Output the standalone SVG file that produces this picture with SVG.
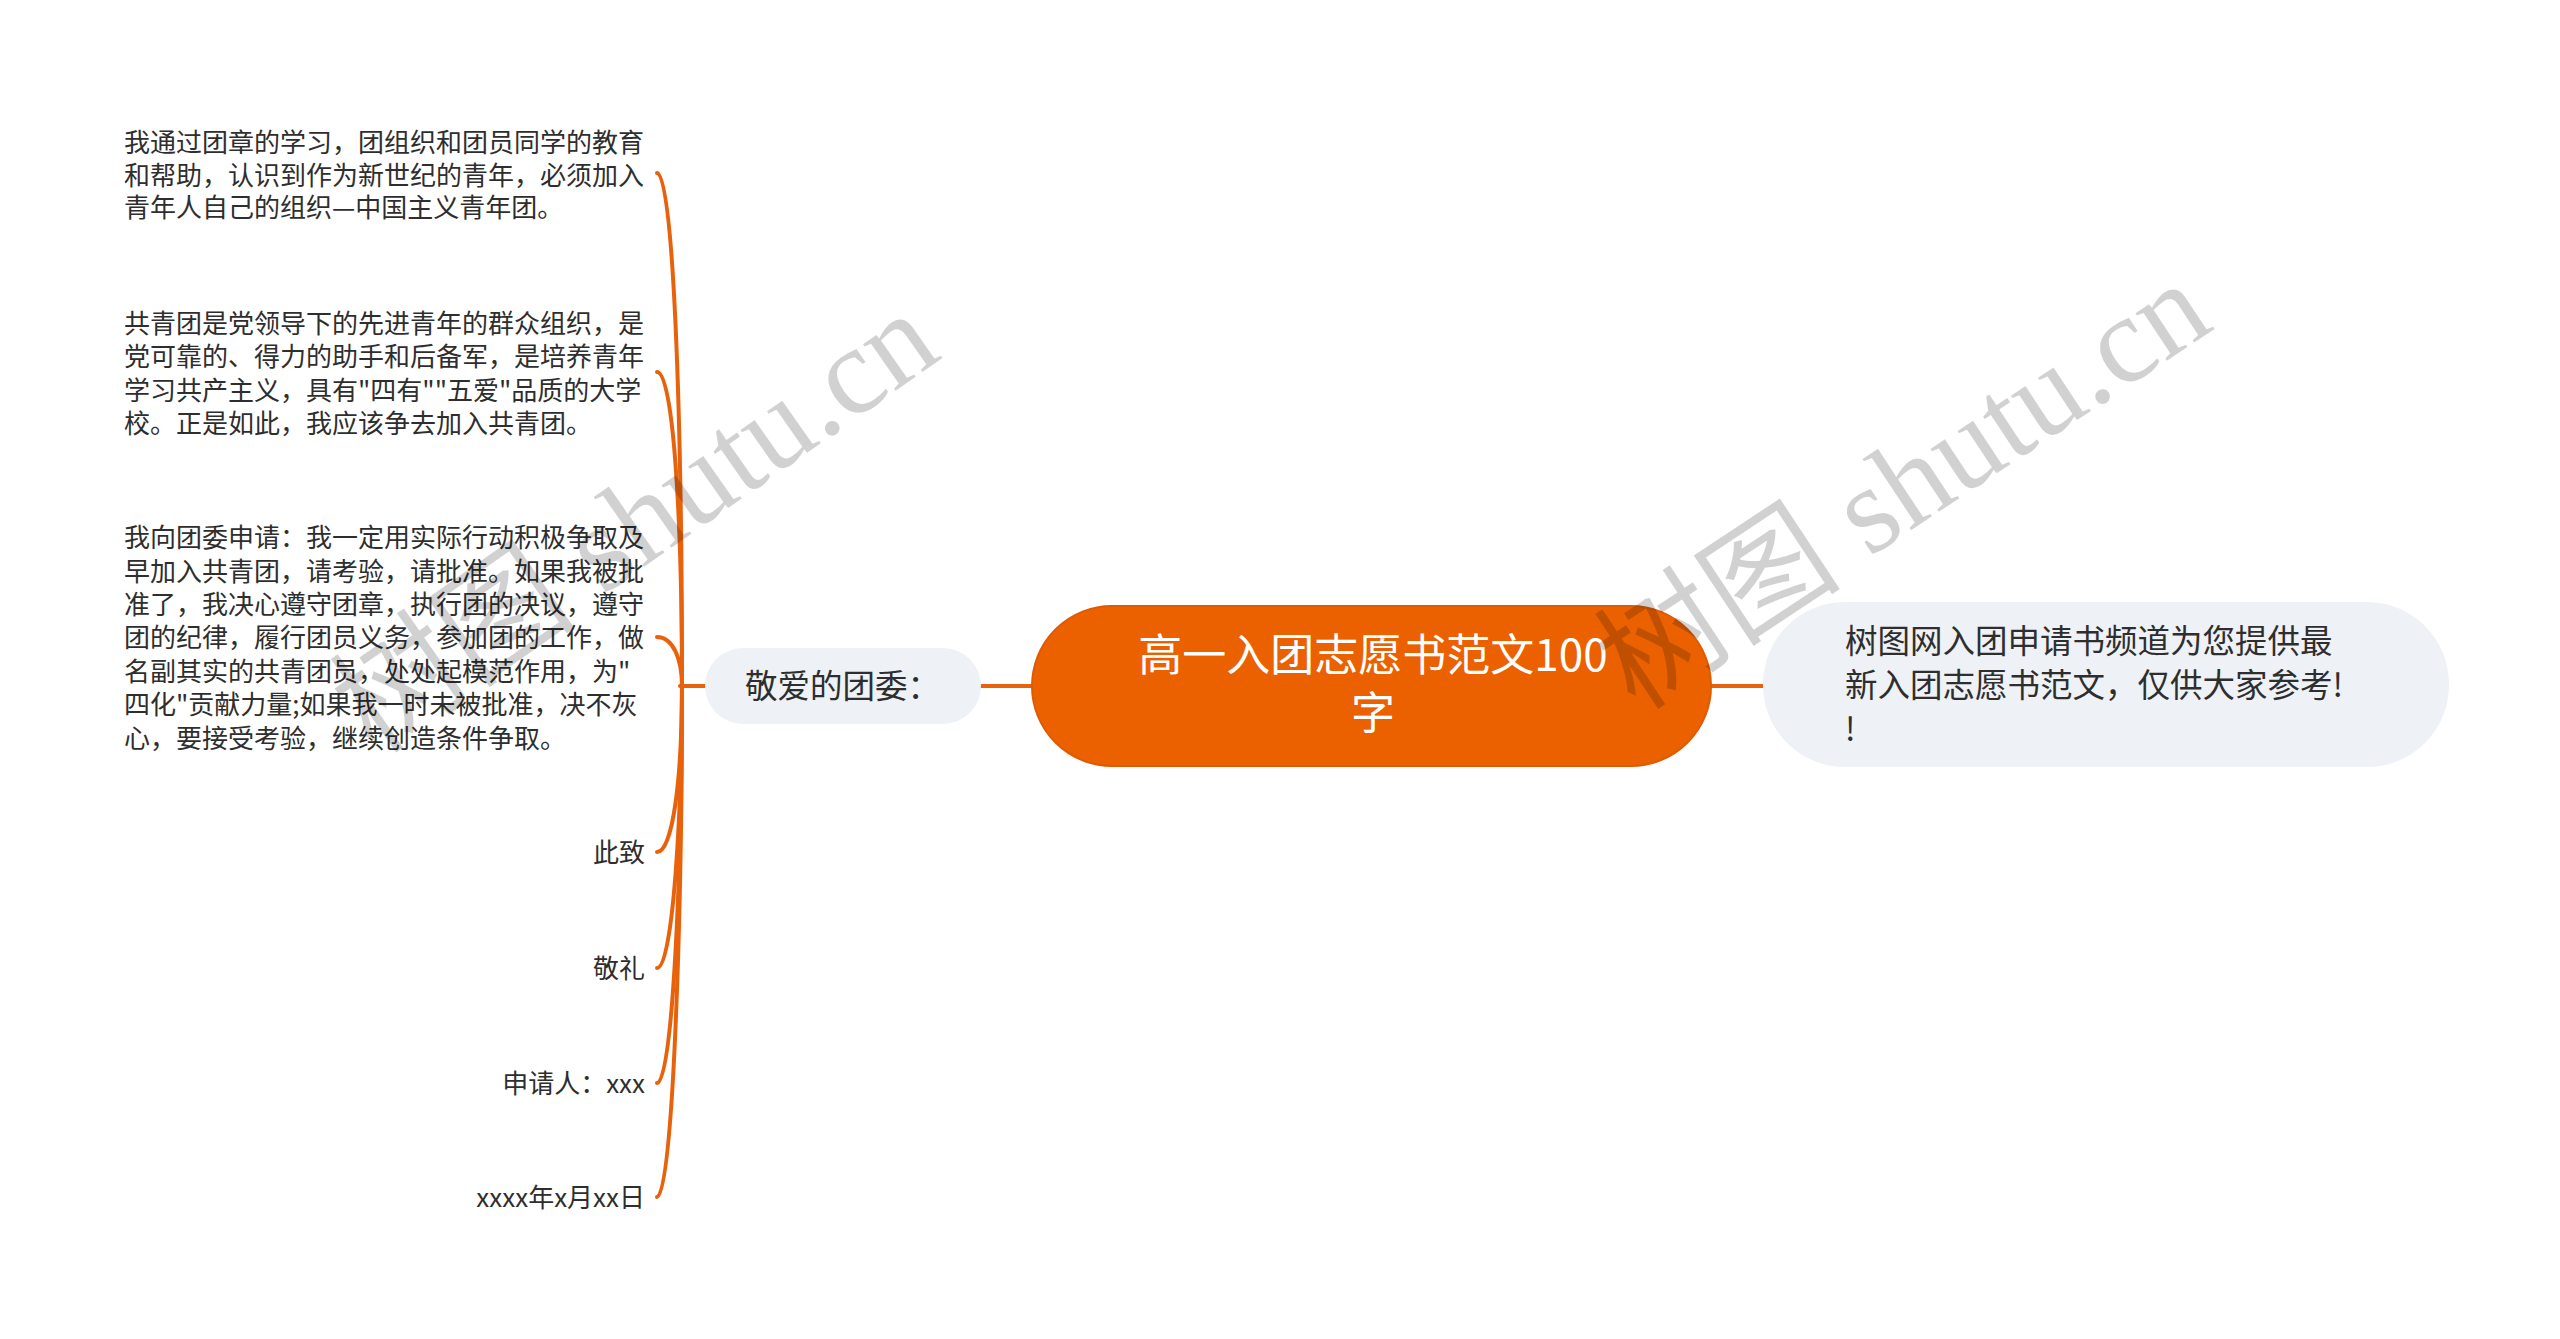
<svg xmlns="http://www.w3.org/2000/svg" width="2560" height="1339" viewBox="0 0 2560 1339">
<style>
.t{font-family:"Noto Sans CJK SC","Noto Sans",sans-serif;fill:#2e2e2e}
.s26{font-size:26px}
.s33{font-size:32.5px}
.main{font-family:"Noto Sans CJK SC","Noto Sans",sans-serif;font-size:44px;fill:#ffffff}
.lnk{fill:none;stroke:#E8620C;stroke-width:4;stroke-linecap:round}
.light{fill:#EEF1F5}
.wm{font-family:"Liberation Serif","Noto Sans CJK SC",serif;font-size:124px;fill:#000;fill-opacity:0.18}
</style>
<rect width="2560" height="1339" fill="#ffffff"/>
<g id="connectors">
<path class="lnk" d="M657 173 C673 173 682 404 682 686" />
<path class="lnk" d="M657 372 C673 372 682 513 682 686" />
<path class="lnk" d="M657 637 C673 637 682 659 682 686" />
<path class="lnk" d="M657 852 C673 852 682 777 682 686" />
<path class="lnk" d="M657 968 C673 968 682 813 682 686" />
<path class="lnk" d="M657 1083 C673 1083 682 865 682 686" />
<path class="lnk" d="M657 1197 C673 1197 682 916 682 686" />
<path class="lnk" d="M680 686 L706 686" />
<path class="lnk" d="M981 686 L1033 686" />
<path class="lnk" d="M1710 686 L1764 686" />
</g>
<g id="root">
<rect x="1032" y="606" width="679" height="160" rx="80" fill="#EB6100" stroke="#E05A00" stroke-width="2"/>
<text class="main" text-anchor="middle"><tspan x="1373" y="671">高一入团志愿书范文100</tspan><tspan x="1373" y="729">字</tspan></text>
</g>
<g id="node-dear">
<rect class="light" x="705" y="648" width="276" height="76" rx="38"/>
<text class="t s33" x="745" y="698">敬爱的团委：</text>
</g>
<g id="node-summary">
<rect class="light" x="1763" y="602" width="686" height="165" rx="82"/>
<text class="t s33"><tspan x="1845" y="653">树图网入团申请书频道为您提供最</tspan><tspan x="1845" y="697">新入团志愿书范文，仅供大家参考!</tspan><tspan x="1845" y="741">!</tspan></text>
</g>
<g id="node-p1">
<text class="t s26"><tspan x="124" y="152">我通过团章的学习，团组织和团员同学的教育</tspan><tspan x="124" y="185">和帮助，认识到作为新世纪的青年，必须加入</tspan><tspan x="124" y="217">青年人自己的组织—中国主义青年团。</tspan></text>
</g>
<g id="node-p2">
<text class="t s26"><tspan x="124" y="333">共青团是党领导下的先进青年的群众组织，是</tspan><tspan x="124" y="366">党可靠的、得力的助手和后备军，是培养青年</tspan><tspan x="124" y="400">学习共产主义，具有"四有""五爱"品质的大学</tspan><tspan x="124" y="433">校。正是如此，我应该争去加入共青团。</tspan></text>
</g>
<g id="node-p3">
<text class="t s26"><tspan x="124" y="547">我向团委申请：我一定用实际行动积极争取及</tspan><tspan x="124" y="581">早加入共青团，请考验，请批准。如果我被批</tspan><tspan x="124" y="614">准了，我决心遵守团章，执行团的决议，遵守</tspan><tspan x="124" y="647">团的纪律，履行团员义务，参加团的工作，做</tspan><tspan x="124" y="681">名副其实的共青团员，处处起模范作用，为"</tspan><tspan x="124" y="714">四化"贡献力量;如果我一时未被批准，决不灰</tspan><tspan x="124" y="748">心，要接受考验，继续创造条件争取。</tspan></text>
</g>
<g id="node-cizhi"><text class="t s26" x="645" y="862" text-anchor="end">此致</text></g>
<g id="node-jingli"><text class="t s26" x="645" y="978" text-anchor="end">敬礼</text></g>
<g id="node-applicant"><text class="t s26" x="645" y="1093" text-anchor="end">申请人：xxx</text></g>
<g id="node-date"><text class="t s26" x="645" y="1207" text-anchor="end">xxxx年x月xx日</text></g>
<g id="watermark">
<text class="wm" transform="translate(374 756) rotate(-35)">树图 shutu.cn</text>
<text class="wm" transform="translate(1636 712) rotate(-33.5)">树图 shutu.cn</text>
</g>
</svg>
